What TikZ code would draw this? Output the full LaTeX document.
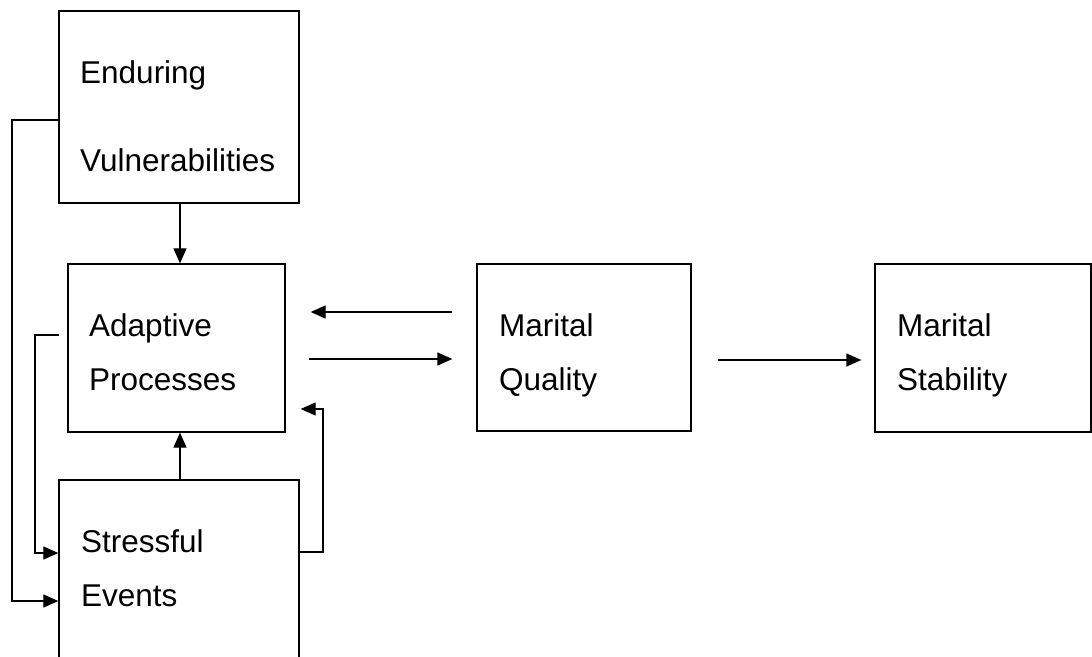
\documentclass[tikz,border=0pt]{standalone}
\usepackage{fontspec}
\setmainfont{Liberation Sans}
\usetikzlibrary{arrows.meta,calc}
\begin{document}
\begin{tikzpicture}[x=1bp,y=-1bp,
  box/.style={draw,line width=1.3bp,rectangle,inner sep=0pt},
  lbl/.style={anchor=base west,inner sep=0pt,font=\fontsize{31.5bp}{40bp}\selectfont},
  conn/.style={line width=1.3bp},
  arr/.style={conn,-{Triangle[length=15bp,width=13bp]}}]
\useasboundingbox (0,0) rectangle (1092,657);
% boxes
\node[box,minimum width=240bp,minimum height=192bp] (EV) at (179,107) {};
\node[box,minimum width=217bp,minimum height=168bp] (AP) at (176.5,348) {};
\node[box,minimum width=240bp,minimum height=200bp] (SE) at (179,580) {};
\node[box,minimum width=214bp,minimum height=167bp] (MQ) at (584,347.5) {};
\node[box,minimum width=216bp,minimum height=168bp] (MS) at (983,348) {};
% texts
\node[lbl] (t1) at (80,84) {Enduring};
\node[lbl] (t2) at (80,172) {Vulnerabilities};
\node[lbl] (t3) at (89,336) {Adaptive};
\node[lbl] (t4) at (89,390) {Processes};
\node[lbl] (t5) at (81,552) {Stressful};
\node[lbl] (t6) at (81,606) {Events};
\node[lbl] (t7) at (499,336) {Marital};
\node[lbl] (t8) at (499,390) {Quality};
\node[lbl] (t9) at (897,336) {Marital};
\node[lbl] (t10) at (897,390) {Stability};
% helper coordinates
\coordinate (c1) at (12,120);
\coordinate (c2) at (12,601);
\coordinate (d1) at (35,335);
\coordinate (d2) at (35,553);
\coordinate (e1) at (323,552);
\coordinate (e2) at (323,409);
\coordinate (f) at (0,312);
\coordinate (g) at (0,359);
\coordinate (h) at (0,360);
% connectors
\draw[arr] (EV.south -| 180,0) -- (AP.north -| 180,0);
\draw[arr] (SE.north -| 180,0) -- (AP.south -| 180,0);
\draw[arr] (EV.west |- c1) -- (c1) -- (c2) -- (SE.west |- c2);
\draw[arr] ($(AP.west |- d1)+(-8,0)$) -- (d1) -- (d2) -- (SE.west |- d2);
\draw[arr] (SE.east |- e1) -- (e1) -- (e2) -- ($(AP.east |- e2)+(15,0)$);
\draw[arr] ($(MQ.west |- f)+(-24,0)$) -- ($(AP.east |- f)+(25,0)$);
\draw[arr] ($(AP.east |- g)+(23,0)$) -- ($(MQ.west |- g)+(-24,0)$);
\draw[arr] ($(MQ.east |- h)+(26,0)$) -- ($(MS.west |- h)+(-13,0)$);
\end{tikzpicture}
\end{document}
